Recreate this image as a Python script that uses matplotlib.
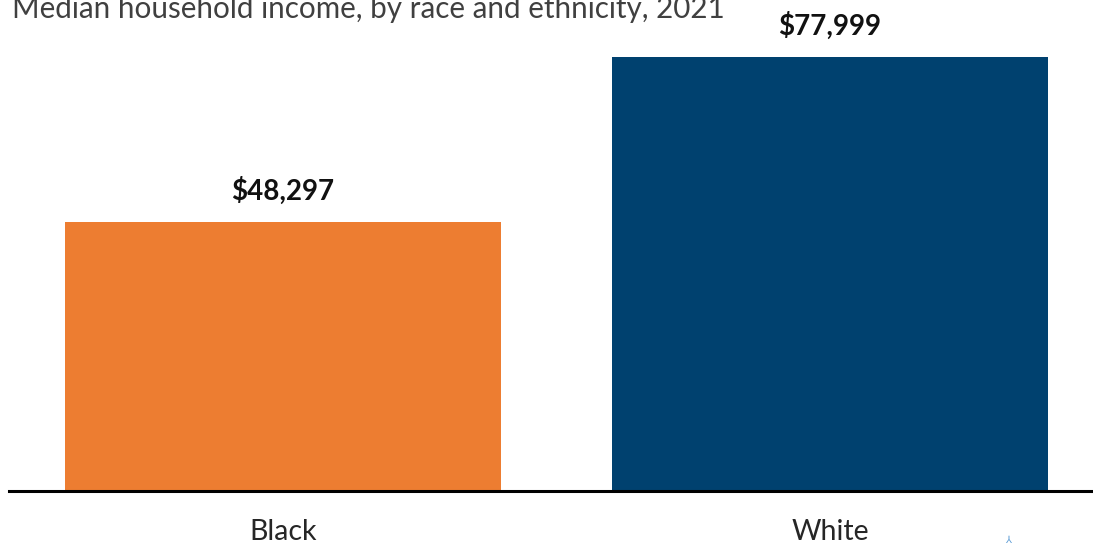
import matplotlib
matplotlib.use("Agg")
import matplotlib.pyplot as plt

categories = ["Black", "White"]
incomes = [48297, 77999]
bar_colors = ["#ED7D31", "#00416F"]
title = "Median household income, by race and ethnicity, 2021"

plt.rcParams['font.family'] = ['Lato', 'DejaVu Sans']

fig = plt.figure(figsize=(10.93, 5.46), dpi=100)
ax = fig.add_axes([9 / 1093, 55 / 546, 1084 / 1093, 491 / 546])

x = range(len(categories))
bars = ax.bar(x, incomes, width=0.797, color=bar_colors)

# value labels above each bar
for rect, val in zip(bars, incomes):
    ax.annotate("${:,}".format(val), xy=(rect.get_x() + rect.get_width() / 2, val),
                xytext=(0, 16), textcoords="offset points", ha="center", va="baseline",
                fontsize=20, fontweight="bold", color="#111111")

ax.set_xlim(-0.501, 1.481)
ax.set_ylim(0, 88300)
ax.set_xticks(list(x))
ax.set_xticklabels(categories, fontsize=20.5, color="#262626")
ax.tick_params(axis="x", length=0, pad=20)
ax.set_yticks([])

for side in ["top", "right", "left"]:
    ax.spines[side].set_visible(False)
ax.spines["bottom"].set_linewidth(2.2)
ax.spines["bottom"].set_color("black")

fig.text(12 / 1093, 1 - 18 / 546, title, fontsize=21.3, color="#404040", ha="left", va="baseline")
fig.text(1008 / 1093, 1 - 540 / 546, "\u2144", fontsize=7, color="#5B9BD5", ha="center", va="center",
         family=["DejaVu Sans"])

fig.savefig("out.png", dpi=100)
